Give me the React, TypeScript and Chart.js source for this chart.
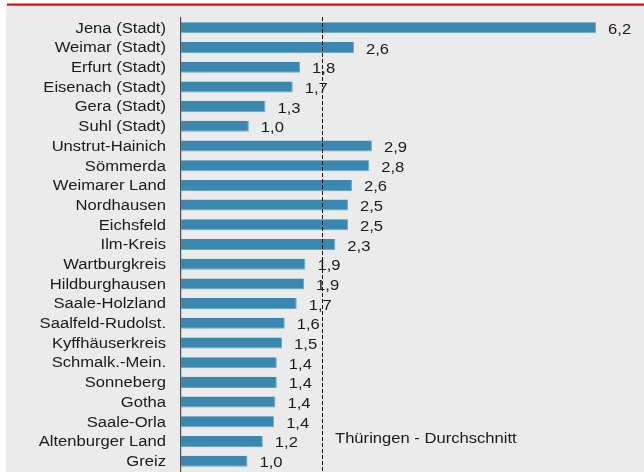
import React, { useEffect, useRef } from 'react';
import { Chart, registerables } from 'chart.js';

Chart.register(...registerables);

const categories: string[] = [
  'Jena (Stadt)', 'Weimar (Stadt)', 'Erfurt (Stadt)', 'Eisenach (Stadt)', 'Gera (Stadt)', 'Suhl (Stadt)',
  'Unstrut-Hainich', 'Sömmerda', 'Weimarer Land', 'Nordhausen', 'Eichsfeld', 'Ilm-Kreis',
  'Wartburgkreis', 'Hildburghausen', 'Saale-Holzland', 'Saalfeld-Rudolst.', 'Kyffhäuserkreis',
  'Schmalk.-Mein.', 'Sonneberg', 'Gotha', 'Saale-Orla', 'Altenburger Land', 'Greiz',
];

const values: number[] = [
  6.24, 2.6, 1.79, 1.68, 1.27, 1.02,
  2.87, 2.83, 2.57, 2.51, 2.51, 2.32,
  1.87, 1.85, 1.74, 1.56, 1.52,
  1.44, 1.44, 1.42, 1.4, 1.23, 1.0,
];

const valueLabels: string[] = [
  '6,2', '2,6', '1,8', '1,7', '1,3', '1,0',
  '2,9', '2,8', '2,6', '2,5', '2,5', '2,3',
  '1,9', '1,9', '1,7', '1,6', '1,5',
  '1,4', '1,4', '1,4', '1,4', '1,2', '1,0',
];

const averageValue = 2.12;
const averageLabel = 'Thüringen - Durchschnitt';
const xAxisMax = 6.96;

const FONT = '14.7px "Liberation Sans", Arial, sans-serif';
const STRETCH = 1.13;
const TEXT_COLOR = '#1a1a1a';

function drawStretched(ctx: CanvasRenderingContext2D, text: string, x: number, y: number, align: CanvasTextAlign) {
  ctx.save();
  ctx.translate(x, y);
  ctx.scale(STRETCH, 1);
  ctx.font = FONT;
  ctx.fillStyle = TEXT_COLOR;
  ctx.textAlign = align;
  ctx.textBaseline = 'alphabetic';
  ctx.fillText(text, 0, 0);
  ctx.restore();
}

const framePlugin = {
  id: 'frame',
  beforeDraw(chart: any) {
    const { ctx, width, height } = chart;
    ctx.save();
    ctx.fillStyle = '#ffffff';
    ctx.fillRect(0, 0, width, height);
    ctx.fillStyle = '#ebebeb';
    ctx.fillRect(6, 5, width - 6, height - 5);
    ctx.fillStyle = '#e30613';
    ctx.fillRect(7, 3.5, width - 7, 2.2);
    ctx.restore();
  },
};

const overlayPlugin = {
  id: 'overlay',
  afterDatasetsDraw(chart: any) {
    const { ctx, chartArea } = chart;
    const xScale = chart.scales.x;
    const yScale = chart.scales.y;
    // average line
    const ax = Math.round(xScale.getPixelForValue(averageValue)) + 0.5;
    ctx.save();
    ctx.strokeStyle = '#111111';
    ctx.lineWidth = 1;
    ctx.setLineDash([4, 2]);
    ctx.beginPath();
    ctx.moveTo(ax, chartArea.top - 1);
    ctx.lineTo(ax, chart.height);
    ctx.stroke();
    ctx.restore();

    // category labels
    categories.forEach((c, i) => {
      const y = yScale.getPixelForTick(i);
      drawStretched(ctx, c, yScale.right - 15, y + 4.8, 'right');
    });

    // value labels
    const meta = chart.getDatasetMeta(0);
    meta.data.forEach((bar: any, i: number) => {
      drawStretched(ctx, valueLabels[i], bar.x + 12, bar.y + 6, 'left');
    });

    // average caption
    drawStretched(ctx, averageLabel, ax + 12.5, chartArea.bottom - 28, 'left');
  },
};

export default function App() {
  const canvasRef = useRef<HTMLCanvasElement | null>(null);

  useEffect(() => {
    const canvas = canvasRef.current;
    if (!canvas) return;
    const chart = new Chart(canvas, {
      type: 'bar',
      data: {
        labels: categories,
        datasets: [
          {
            data: values,
            backgroundColor: '#3a88b0',
            borderColor: '#6aa8cb',
            borderWidth: { top: 0, left: 0, right: 1, bottom: 1 },
            borderSkipped: false,
            barPercentage: 0.56,
            categoryPercentage: 1,
          },
        ],
      },
      options: {
        indexAxis: 'y',
        responsive: false,
        animation: false,
        events: [],
        layout: { padding: { top: 18, bottom: 1, left: 0, right: 0 } },
        plugins: {
          legend: { display: false },
          tooltip: { enabled: false },
          title: { display: false },
        },
        scales: {
          x: {
            display: false,
            min: 0,
            max: xAxisMax,
          },
          y: {
            position: 'left',
            grid: { display: false, drawTicks: false },
            border: { display: true, color: '#505050', width: 1.2 },
            ticks: { display: false },
            afterFit: (scale: any) => {
              scale.width = 181;
            },
          },
        },
      },
      plugins: [framePlugin, overlayPlugin],
    } as any);
    return () => chart.destroy();
  }, []);

  return (
    <div style={{ position: 'absolute', left: 0, top: 0, width: 644, height: 472 }}>
      <canvas ref={canvasRef} width={644} height={472} style={{ display: 'block', width: 644, height: 472 }} />
    </div>
  );
}
